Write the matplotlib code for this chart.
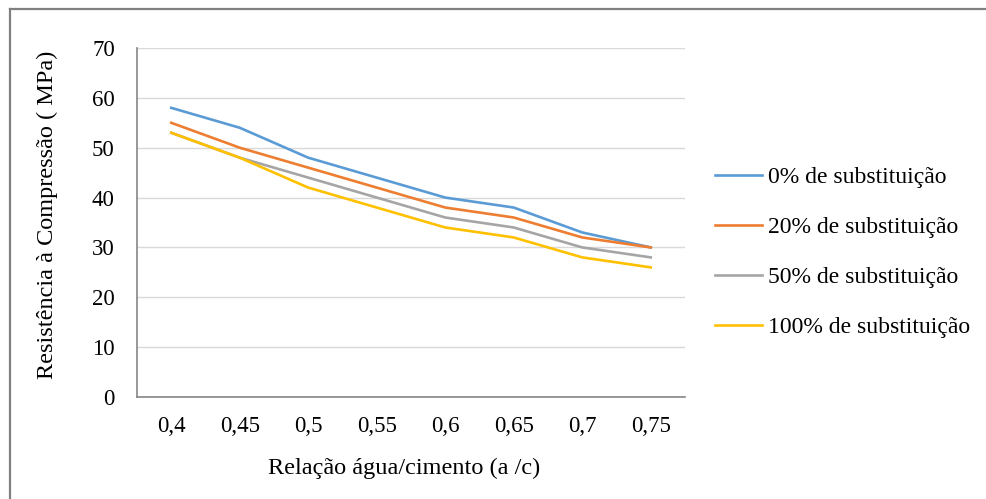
import matplotlib.pyplot as plt
from matplotlib.lines import Line2D

plt.rcParams['font.family'] = ['Liberation Serif', 'DejaVu Serif']

# relação a/c e resistência de cada série
ratios = ["0,4", "0,45", "0,5", "0,55", "0,6", "0,65", "0,7", "0,75"]
sub_0 = [58, 54, 48, 44, 40, 38, 33, 30]
sub_20 = [55, 50, 46, 42, 38, 36, 32, 30]
sub_50 = [53, 48, 44, 40, 36, 34, 30, 28]
sub_100 = [53, 48, 42, 38, 34, 32, 28, 26]

series = [("0% de substituição", sub_0, "#5B9BD5"),
          ("20% de substituição", sub_20, "#ED7D31"),
          ("50% de substituição", sub_50, "#A5A5A5"),
          ("100% de substituição", sub_100, "#FFC000")]

fig = plt.figure(figsize=(9.87, 4.99), dpi=100)
ax = fig.add_axes([137/987, 1-397/499, (685-137)/987, (397-48)/499])

x = range(len(ratios))
for label, vals, col in series:
    ax.plot(x, vals, color=col, lw=1.9, label=label, solid_joinstyle='round')

ax.set_xlim(-0.5, len(ratios)-0.5)
ax.set_ylim(0, 70)
ax.set_yticks(range(0, 71, 10))
ax.set_xticks(list(x))
ax.set_xticklabels(ratios)
ax.tick_params(length=0, labelsize=16.5, colors='#000000')
ax.tick_params(axis='x', pad=14)
ax.tick_params(axis='y', pad=16)
ax.grid(axis='y', color='#D9D9D9', lw=1)
ax.set_axisbelow(True)
for s in ['top', 'right']:
    ax.spines[s].set_visible(False)
for s in ['left', 'bottom']:
    ax.spines[s].set_color('#868686')
    ax.spines[s].set_linewidth(1.2)

fig.text(47/987, 1-215/499, "Resistência à Compressão ( MPa)", rotation=90,
         ha='center', va='center', fontsize=17.5)
fig.text(404/987, 1-468/499, "Relação água/cimento (a /c)",
         ha='center', va='center', fontsize=17.5)

fig.legend(loc='center left', bbox_to_anchor=(715/987, 1-252.5/499),
           frameon=False, fontsize=17, borderpad=0, borderaxespad=0,
           handlelength=2.0, handletextpad=0.25, labelspacing=1.2)

# moldura do gráfico (só topo e lado esquerdo)
fx, fy = 10/987, 1-9/499
fig.add_artist(Line2D([fx, 1.01], [fy, fy], transform=fig.transFigure,
                      color='#808080', lw=1.6))
fig.add_artist(Line2D([fx, fx], [-0.01, fy], transform=fig.transFigure,
                      color='#808080', lw=1.6))

fig.savefig("out.png", dpi=100)
